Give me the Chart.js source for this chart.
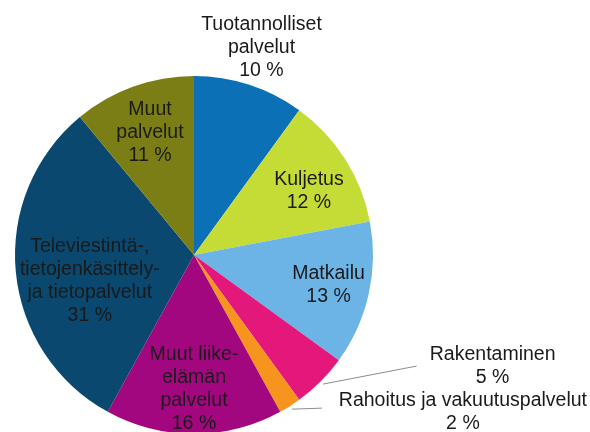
<!DOCTYPE html>
<html>
<head>
<meta charset="utf-8">
<script src="https://cdn.jsdelivr.net/npm/chart.js@4"></script>
<style>
  body { margin: 0; background: #fff; }
  #wrap { width: 590px; height: 432px; overflow: hidden; }
</style>
</head>
<body>
<div id="wrap"><canvas id="pie-chart" width="590" height="440"></canvas></div>
<script>
var categories = ['Tuotannolliset palvelut', 'Kuljetus', 'Matkailu', 'Rakentaminen',
    'Rahoitus ja vakuutuspalvelut', 'Muut liike-elämän palvelut',
    'Televiestintä-, tietojenkäsittely- ja tietopalvelut', 'Muut palvelut'];
var shares = [10, 12, 13, 5, 2, 16, 31, 11];
var label_lines = [['Tuotannolliset', 'palvelut'], ['Kuljetus'], ['Matkailu'], ['Rakentaminen'],
    ['Rahoitus ja vakuutuspalvelut'], ['Muut liike-', 'elämän', 'palvelut'],
    ['Televiestintä-,', 'tietojenkäsittely-', 'ja tietopalvelut'], ['Muut', 'palvelut']];
var colors = ['#0b70b6', '#c6dc36', '#6cb4e6', '#e4177b', '#f7941d', '#a2077f', '#0a486f', '#7b7e15'];

// label placement: distance from centre (x radius) and nudge from mid angle (deg)
var label_radius = [1.22, 0.735, 0.77, 1.78, 1.74, 0.75, 0.6, 0.726];
var label_nudge = [0, 3.3, 0, -24.6, -27.3, 0, -8.6, 0];
// leader line ends, relative to label block centre (px)
var leader_end = {3: [-76, 0], 4: [-141, -4]};

var pieLabels = {
    id: 'pieLabels',
    afterDatasetsDraw: function (chart) {
        var ctx = chart.ctx;
        var meta = chart.getDatasetMeta(0);
        var lh = 23;
        ctx.save();
        ctx.font = '19.5px "Liberation Sans", Arial, sans-serif';
        ctx.fillStyle = '#1a1a1a';
        ctx.textAlign = 'center';
        ctx.textBaseline = 'middle';
        meta.data.forEach(function (arc, i) {
            var p = arc.getProps(['x', 'y', 'startAngle', 'endAngle', 'outerRadius'], true);
            var mid = (p.startAngle + p.endAngle) / 2;
            var a = mid + label_nudge[i] * Math.PI / 180;
            var cx = p.x + Math.cos(a) * p.outerRadius * label_radius[i];
            var cy = p.y + Math.sin(a) * p.outerRadius * label_radius[i];
            var lines = label_lines[i].concat([shares[i] + ' %']);
            lines.forEach(function (t, k) {
                ctx.fillText(t, cx, cy + (k - (lines.length - 1) / 2) * lh);
            });
            if (leader_end[i]) {
                ctx.strokeStyle = '#8c8c8c';
                ctx.lineWidth = 1;
                ctx.beginPath();
                ctx.moveTo(p.x + Math.cos(mid) * p.outerRadius * 1.02, p.y + Math.sin(mid) * p.outerRadius * 1.02);
                ctx.lineTo(cx + leader_end[i][0], cy + leader_end[i][1]);
                ctx.stroke();
            }
        });
        ctx.restore();
    }
};

new Chart(document.getElementById('pie-chart'), {
    type: 'pie',
    data: {
        labels: categories,
        datasets: [{
            data: shares,
            backgroundColor: colors,
            borderWidth: 0
        }]
    },
    options: {
        responsive: false,
        animation: false,
        layout: { padding: { top: 76, bottom: 6, left: 15, right: 217 } },
        plugins: {
            legend: { display: false },
            tooltip: { enabled: false }
        }
    },
    plugins: [pieLabels]
});
</script>
</body>
</html>
